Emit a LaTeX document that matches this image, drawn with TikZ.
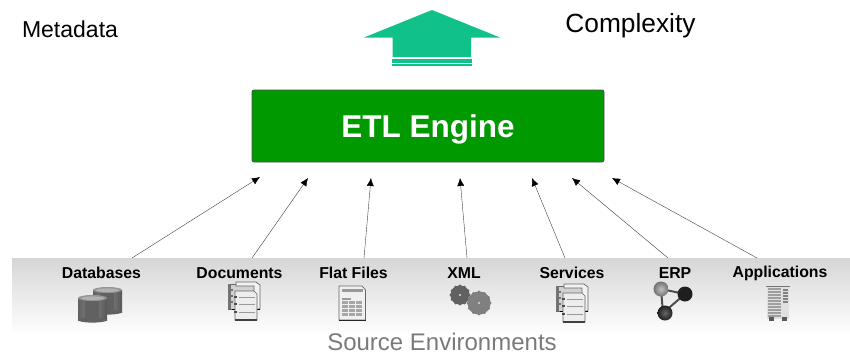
\documentclass[tikz,border=0pt]{standalone}
\usepackage{fontspec}
\setmainfont{Liberation Sans}
\usetikzlibrary{arrows.meta}
\definecolor{teal1}{HTML}{10C28A}
\definecolor{engine}{HTML}{009900}
\definecolor{srctxt}{HTML}{7A7A7A}
\tikzset{
 conn/.style={draw=black!75,line width=0.4pt,-{Latex[length=8pt,width=7pt,black]}},
 srclabel/.style={font=\bfseries\fontsize{15.8}{17}\selectfont,inner sep=0pt,anchor=center},
 toplabel/.style={inner sep=0pt,text=black},
 page/.style={draw=black!60,line width=0.7pt,fill=black!7},
 pageline/.style={draw=black!40,line width=0.5pt},
}
\newcommand{\stackicon}[2]{%
 \begin{scope}[shift={(#1,#2)}]
  \draw[page,fill=black!18] (0,2) -- (0,27) -- (28,27) -- (28,2) -- cycle;
  \draw[page,fill=black!5] (8,0) -- (28,0) -- (32,3) -- (32,27) -- (26,27) -- (26,4) -- (8,4) -- cycle;
  \fill[black!55] (0,2) rectangle (3,27);
  \draw[black,line width=1pt] (4,27.5) -- (32,27.5);
  \draw[page,fill=black!7] (7,9) -- (26,9) -- (29,12) -- (29,38) -- (7,38) -- cycle;
  \draw[black!75,line width=1.1pt] (7,38) -- (29,38);
  \foreach \yy in {7,13,19}{\fill[black!55] (2,\yy) rectangle (4.5,\yy+2);}
  \foreach \yy in {15,22,30}{
    \draw[pageline] (11,\yy) -- (27,\yy);
    \fill[black!70] (6,\yy-1) rectangle (9,\yy+1);
  }
 \end{scope}}
\newcommand{\gearicon}[4]{%
 \fill[#4] (#1,#2) circle[radius=#3-1.4];
 \foreach \a in {0,30,...,330}{\fill[#4] (#1,#2) ++(\a:#3-2) circle[radius=1.7];}
 \fill[black!15] (#1,#2) circle[radius=1.2];
}
\newcommand{\cylicon}[2]{%
 \begin{scope}[shift={(#1,#2)}]
  \shade[left color=black!62,right color=black!66,middle color=black!48] (0,3) rectangle (29,25);
  \fill[black!62] (14.5,25) ellipse[x radius=14.5,y radius=2.6];
  \fill[black!62] (7,5) rectangle (21,26);
  \fill[black!42] (14.5,3) ellipse[x radius=14.5,y radius=3];
  \fill[black!30] (14.5,3.2) ellipse[x radius=11.5,y radius=1.8];
 \end{scope}}
\begin{document}
\begin{tikzpicture}[x=1pt,y=-1pt]
\useasboundingbox (0,0) rectangle (850,354);
% band
\shade[top color=black!16,bottom color=white] (12,258) rectangle (850,335);
% arrow
\fill[teal1] (432,10) -- (500,37.5) -- (471,37.5) -- (471,57) -- (392.5,57) -- (392.5,37.5) -- (364,37.5) -- cycle;
\fill[teal1] (392,59) rectangle (472,62.7);
\fill[teal1] (392,64) rectangle (472,66);
% labels
\node[toplabel,font=\fontsize{23}{26}\selectfont] (meta) at (70,29) {Metadata};
\node[toplabel,font=\fontsize{26.3}{28}\selectfont] (cplx) at (630.5,26) {Complexity};
% engine
\node[draw=black!70,line width=0.8pt,fill=engine,rounded corners=2pt,minimum width=352pt,minimum height=72pt,inner sep=0pt,text=white,text height=22pt,text depth=0pt,font=\bfseries\fontsize{31.5}{34}\selectfont] (etl) at (428,126) {ETL Engine};
% source labels
\node[srclabel] (db) at (101.5,273) {Databases};
\node[srclabel] (doc) at (239.5,273) {Documents};
\node[srclabel] (ff) at (353.5,273) {Flat Files};
\node[srclabel] (xml) at (464,273) {XML};
\node[srclabel] (svc) at (572,273) {Services};
\node[srclabel] (erp) at (675,273) {ERP};
\node[srclabel] (app) at (780,273) {Applications};
\node[font=\fontsize{24}{26}\selectfont,text=srctxt,inner sep=0pt] (env) at (442,342) {Source Environments};
% connector ends
\coordinate (s1) at (132,258); \coordinate (t1) at (260,177);
\coordinate (s2) at (252,258); \coordinate (t2) at (308,178);
\coordinate (s3) at (364,258); \coordinate (t3) at (371,178);
\coordinate (s4) at (467,258); \coordinate (t4) at (460,178);
\coordinate (s5) at (565,258); \coordinate (t5) at (532,178);
\coordinate (s6) at (668,258); \coordinate (t6) at (572,178);
\coordinate (s7) at (757,258); \coordinate (t7) at (612,178);
\foreach \i in {1,...,7}{\draw[conn] (s\i) -- (t\i);}
% database icon
\cylicon{93}{287}
\cylicon{78}{295}
% document icons
\stackicon{228}{282}
\stackicon{556}{284}
% flat file
\draw[page,fill=black!6] (339,286) -- (362,286) -- (365.5,290) -- (365.5,320) -- (339,320) -- cycle;
\draw[black!85,line width=1pt] (339,320) -- (365.5,320);
\fill[black!40] (342,289) rectangle (363,291.5);
\fill[black!40] (342,298) rectangle (351,299.5);
\foreach \yy in {301,305,309,313}{\foreach \xx in {342,349,356}{\fill[black!35] (\xx,\yy) rectangle (\xx+6,\yy+3);}}
% gears
\gearicon{460}{295}{11}{black!62}
\gearicon{479}{303}{13}{black!50}
% ERP
\draw[black!70,line width=2pt] (661,289) -- (685,294) -- (663,313) -- cycle;
\shade[inner color=black!25,outer color=black!55] (661,289) circle[radius=7.5];
\fill[black!88] (685,294) circle[radius=7.5];
\shade[inner color=black!60,outer color=black!88] (665,313) circle[radius=7.5];
% server
\fill[black!12] (767,286) rectangle (789,319);
\draw[black!55,line width=0.8pt] (766,286) -- (790,286);
\fill[black!38] (768,288) rectangle (781,317);
\foreach \yy in {290,293,...,314}{\draw[black!12,line width=0.5pt] (768,\yy) -- (781,\yy);}
\foreach \yy in {289,292,295,298,301}{\fill[black!50] (783,\yy) rectangle (788,\yy+2);}
\fill[black!65] (769,317) rectangle (774,320.5);
\fill[black!65] (782,317) rectangle (787,320.5);
\end{tikzpicture}
\end{document}
